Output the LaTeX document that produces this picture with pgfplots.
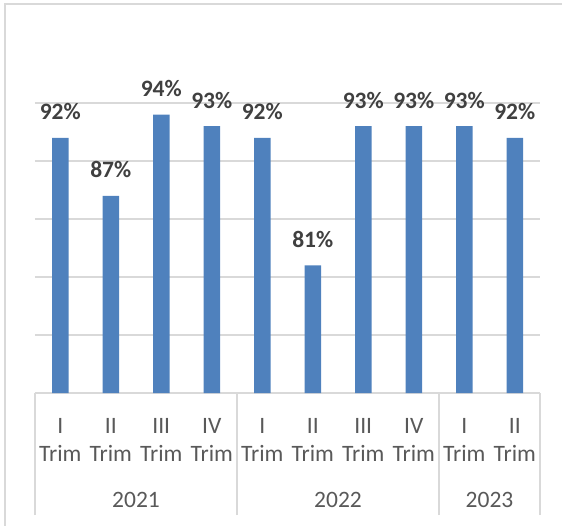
\documentclass[border=0pt]{standalone}
\usepackage{pgfplots}
\pgfplotsset{compat=1.18}
\usepackage{fontspec}
\setmainfont{Carlito}
\definecolor{barblue}{RGB}{79,129,189}
\definecolor{gridgray}{RGB}{217,217,217}
\definecolor{labelgray}{RGB}{89,89,89}
\definecolor{valgray}{RGB}{64,64,64}

\begin{document}
\begin{tikzpicture}[x=1pt,y=1pt]
\useasboundingbox (0,0) rectangle (562,525);
% chart area frame
\draw[gridgray, line width=1.2pt] (5,-5) -- (5,521) -- (567,521);
\begin{axis}[
  at={(35pt,132pt)}, anchor=south west,
  scale only axis, width=505pt, height=290pt,
  xmin=-0.5, xmax=9.5, ymin=70, ymax=95,
  ytick={70,75,...,95}, yticklabels={}, ymajorgrids,
  grid style={gridgray, line width=1.2pt},
  axis line style={draw=none},
  ytick style={draw=none},
  xtick={0,...,9},
  xticklabels={I\\Trim, II\\Trim, III\\Trim, IV\\Trim, I\\Trim, II\\Trim, III\\Trim, IV\\Trim, I\\Trim, II\\Trim},
  xtick style={draw=none},
  xtick pos=lower,
  xticklabel style={align=center, font=\fontsize{23.5}{28.7}\selectfont, text=labelgray, anchor=north, inner sep=0pt, yshift=-20.5pt},
  extra x ticks={-0.5,3.5,7.5,9.5},
  extra x tick labels={},
  extra x tick style={xtick style={draw=gridgray, line width=1.2pt}, major tick length=122pt, tick align=outside, grid=none},
  ybar, bar width=16.5pt,
  /pgf/number format/assume math mode=true,
  nodes near coords={\pgfmathprintnumber{\pgfplotspointmeta}\%},
  nodes near coords style={font=\bfseries\fontsize{23.5}{28}\selectfont, text=valgray, anchor=base, yshift=18pt, inner sep=0pt},
  clip=false,
]
\addplot[fill=barblue, draw=none] coordinates {
  (0,92) (1,87) (2,94) (3,93)
  (4,92) (5,81) (6,93) (7,93)
  (8,93) (9,92)
};
% year labels under the quarter groups
\node[anchor=base, text=labelgray, font=\fontsize{23.5}{28}\selectfont, yshift=-114.7pt] at (axis cs:1.5,70) {2021};
\node[anchor=base, text=labelgray, font=\fontsize{23.5}{28}\selectfont, yshift=-114.7pt] at (axis cs:5.5,70) {2022};
\node[anchor=base, text=labelgray, font=\fontsize{23.5}{28}\selectfont, yshift=-114.7pt] at (axis cs:8.5,70) {2023};
\end{axis}
\end{tikzpicture}
\end{document}
